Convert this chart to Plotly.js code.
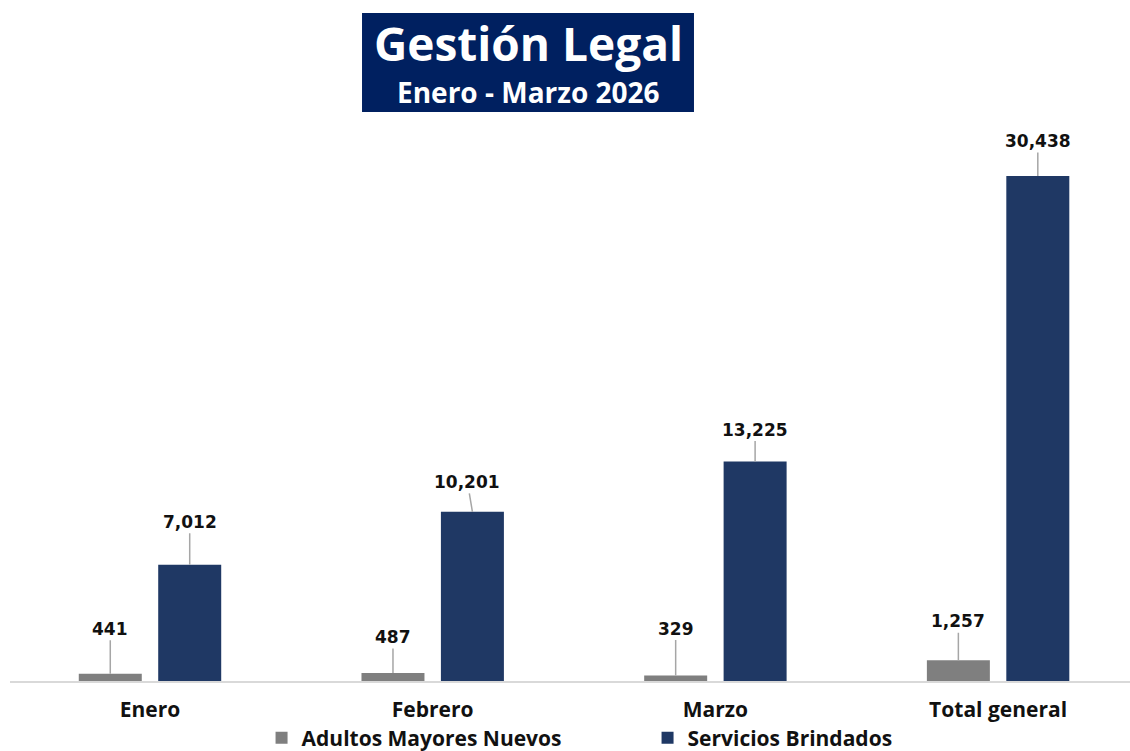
<!DOCTYPE html>
<html>
<head>
<meta charset="utf-8">
<script src="https://cdn.plot.ly/plotly-3.0.1.min.js"></script>
<style>html,body{margin:0;padding:0;background:#fff;}#chart{width:1130px;height:751px;}</style>
</head>
<body>
<div id="chart"></div>
<script>
const categories = ["Enero", "Febrero", "Marzo", "Total general"];
const seriesNames = ["Adultos Mayores Nuevos", "Servicios Brindados"];
const adultosNuevos = [441, 487, 329, 1257];
const serviciosBrindados = [7012, 10201, 13225, 30438];

// label placement (pixels, text centre relative to bar top)
const labelDy = [[-45, -36, -47, -39], [-43, -30, -32, -35]];
const labelDx = [[0, 0, 0, 0], [0, -5, 0, 0]];

const colors = ["#7F7F7F", "#1F3864"];
const barShift = 0.1405;

const fmt = v => v.toLocaleString("en-US");

const traces = [adultosNuevos, serviciosBrindados].map((vals, s) => ({
  type: "bar",
  name: seriesNames[s],
  x: categories,
  y: vals,
  marker: {color: colors[s], line: {width: 0}},
  hoverinfo: "x+y"
}));

const annotations = [];
[adultosNuevos, serviciosBrindados].forEach((vals, s) => {
  vals.forEach((v, i) => {
    annotations.push({
      x: i + (s === 0 ? -barShift : barShift),
      y: v,
      xref: "x", yref: "y",
      text: fmt(v),
      showarrow: true,
      arrowhead: 0,
      arrowwidth: 1.5,
      arrowcolor: "#A6A6A6",
      standoff: 0,
      startstandoff: 0,
      ax: labelDx[s][i],
      ay: labelDy[s][i],
      font: {family: "DejaVu Sans, Verdana, sans-serif", size: 17, color: "#111111", weight: 700}
    });
  });
});

annotations.push({
  xref: "paper", yref: "paper", x: 0.4625, y: 1.1585, xanchor: "center", yanchor: "middle",
  text: "<b>Gestión Legal</b>", showarrow: false,
  font: {family: "Open Sans, Roboto, sans-serif", size: 46, color: "#FFFFFF"}
});
annotations.push({
  xref: "paper", yref: "paper", x: 0.4625, y: 1.069, xanchor: "center", yanchor: "middle",
  text: "<b>Enero - Marzo 2026</b>", showarrow: false,
  font: {family: "Open Sans, Roboto, sans-serif", size: 28, color: "#FFFFFF"}
});

const layout = {
  width: 1130, height: 751,
  margin: {l: 10, r: 0, t: 130, b: 70, autoexpand: false},
  paper_bgcolor: "#FFFFFF",
  plot_bgcolor: "#FFFFFF",
  barmode: "group",
  bargap: 0.438,
  bargroupgap: 0.207,
  showlegend: true,
  legend: {
    orientation: "h", x: 0.2246, xanchor: "left", y: -0.1035, yanchor: "middle",
    font: {family: "Open Sans, Roboto, sans-serif", size: 21, color: "#111111", weight: 700},
    entrywidth: 341, entrywidthmode: "pixels",
    bgcolor: "rgba(0,0,0,0)"
  },
  xaxis: {
    type: "category",
    range: [-0.4952, 3.4666],
    showline: true, linecolor: "#D9D9D9", linewidth: 2,
    ticks: "", showgrid: false, zeroline: false,
    ticklabelstandoff: 9,
    tickfont: {family: "Open Sans, Roboto, sans-serif", size: 21, color: "#111111", weight: 700},
    fixedrange: true
  },
  yaxis: {
    range: [0, 33211],
    visible: false, showgrid: false, zeroline: false,
    fixedrange: true
  },
  shapes: [{
    type: "rect", xref: "paper", yref: "paper",
    x0: 0.3143, x1: 0.6107, y0: 1.0327, y1: 1.2123,
    fillcolor: "#002060", line: {width: 0}, layer: "below"
  }],
  annotations: annotations
};

Plotly.newPlot("chart", traces, layout, {displayModeBar: false, staticPlot: true});
</script>
</body>
</html>
